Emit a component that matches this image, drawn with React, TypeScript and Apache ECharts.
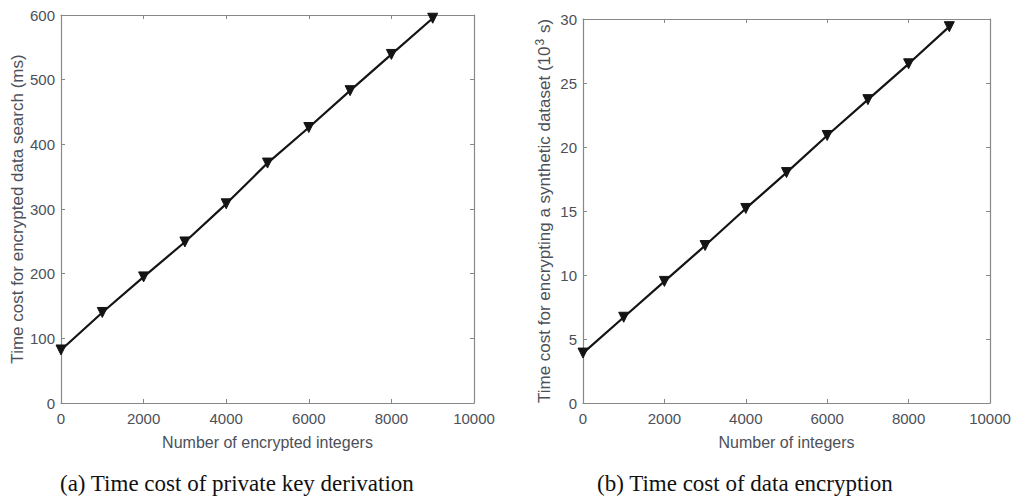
import React, { useEffect, useRef } from "react";
import * as echarts from "echarts";

const xValues = [0, 1000, 2000, 3000, 4000, 5000, 6000, 7000, 8000, 9000];
const searchTimeMs = [82, 140, 195, 249, 308, 371, 426, 483, 539, 595];
const encryptTime = [3.9, 6.7, 9.5, 12.3, 15.2, 18.0, 20.9, 23.7, 26.5, 29.4];

const captionA = "(a) Time cost of private key derivation";
const captionB = "(b) Time cost of data encryption";
const xNameA = "Number of encrypted integers";
const xNameB = "Number of integers";
const yNameA = "Time cost for encrypted data search (ms)";
const yNameB = "Time cost for encrypting a synthetic dataset (10{sup|3} s)";

const AXIS_COLOR = "#888888";
const TEXT_COLOR = "#4c5059";
const FONT = "'Liberation Sans', Arial, sans-serif";
const SERIF = "'Liberation Serif', 'Times New Roman', serif";

export default function App() {
  const ref = useRef<HTMLDivElement>(null);
  useEffect(() => {
    document.body.style.margin = "0";
    const chart = echarts.init(ref.current!, null, { renderer: "svg" });
    const labelStyle = { color: TEXT_COLOR, fontSize: 15, fontFamily: FONT };
    const xNameStyle = { color: TEXT_COLOR, fontSize: 16, fontFamily: FONT };
    const yNameStyle = { color: TEXT_COLOR, fontSize: 17, fontFamily: FONT };
    const plain = (v: number) => String(v);
    const mainX = (gridIndex: number, name: string) => ({
      type: "value",
      gridIndex,
      min: 0,
      max: 10000,
      interval: 2000,
      position: "bottom",
      name,
      nameLocation: "middle",
      nameGap: 31,
      nameTextStyle: { ...xNameStyle },
      axisLine: { show: true, onZero: false, lineStyle: { color: AXIS_COLOR, width: 1.2 } },
      axisTick: { show: true, inside: true, length: 4, lineStyle: { color: AXIS_COLOR } },
      axisLabel: { ...labelStyle, margin: 8, formatter: plain },
      splitLine: { show: false },
    });
    const topX = (gridIndex: number) => ({
      type: "value",
      gridIndex,
      min: 0,
      max: 10000,
      interval: 2000,
      position: "top",
      axisLine: { show: true, onZero: false, lineStyle: { color: AXIS_COLOR, width: 1.2 } },
      axisTick: { show: true, inside: true, length: 4, lineStyle: { color: AXIS_COLOR } },
      axisLabel: { show: false },
      splitLine: { show: false },
    });
    const mainY = (gridIndex: number, max: number, interval: number, name: string, nameGap: number, rich?: any) => ({
      type: "value",
      gridIndex,
      min: 0,
      max,
      interval,
      position: "left",
      name,
      nameLocation: "middle",
      nameGap,
      nameTextStyle: { ...yNameStyle, rich },
      axisLine: { show: true, onZero: false, lineStyle: { color: AXIS_COLOR, width: 1.2 } },
      axisTick: { show: true, inside: true, length: 4, lineStyle: { color: AXIS_COLOR } },
      axisLabel: { ...labelStyle, margin: 6, formatter: plain },
      splitLine: { show: false },
    });
    const rightY = (gridIndex: number, max: number, interval: number) => ({
      type: "value",
      gridIndex,
      min: 0,
      max,
      interval,
      position: "right",
      axisLine: { show: true, onZero: false, lineStyle: { color: AXIS_COLOR, width: 1.2 } },
      axisTick: { show: true, inside: true, length: 4, lineStyle: { color: AXIS_COLOR } },
      axisLabel: { show: false },
      splitLine: { show: false },
    });
    const seriesStyle = {
      type: "line",
      symbol: "triangle",
      symbolRotate: 180,
      symbolSize: 10,
      showSymbol: true,
      lineStyle: { color: "#141414", width: 2.2 },
      itemStyle: { color: "#141414", borderColor: "#141414", borderWidth: 1 },
    };
    chart.setOption({
      animation: false,
      backgroundColor: "#ffffff",
      grid: [
        { left: 61, top: 15, width: 413, height: 388 },
        { left: 583, top: 19, width: 407, height: 384 },
      ],
      xAxis: [mainX(0, xNameA), topX(0), mainX(1, xNameB), topX(1)],
      yAxis: [
        mainY(0, 600, 100, yNameA, 35),
        rightY(0, 600, 100),
        mainY(1, 30, 5, yNameB, 28, {
          sup: { fontSize: 12, fontFamily: FONT, color: TEXT_COLOR, padding: [0, 1, 9, 1] },
        }),
        rightY(1, 30, 5),
      ],
      series: [
        {
          ...seriesStyle,
          xAxisIndex: 0,
          yAxisIndex: 0,
          data: xValues.map((x, i) => [x, searchTimeMs[i]]),
        },
        {
          ...seriesStyle,
          xAxisIndex: 2,
          yAxisIndex: 2,
          data: xValues.map((x, i) => [x, encryptTime[i]]),
        },
      ],
      graphic: [
        {
          type: "text",
          left: 60,
          top: 472,
          style: { text: captionA, fontFamily: SERIF, fontSize: 23, fill: "#111" },
        },
        {
          type: "text",
          left: 597,
          top: 472,
          style: { text: captionB, fontFamily: SERIF, fontSize: 23, fill: "#111" },
        },
      ],
    });
    return () => chart.dispose();
  }, []);
  return (
    <div
      ref={ref}
      style={{ position: "absolute", left: 0, top: 0, width: 1016, height: 503, background: "#fff" }}
    />
  );
}
